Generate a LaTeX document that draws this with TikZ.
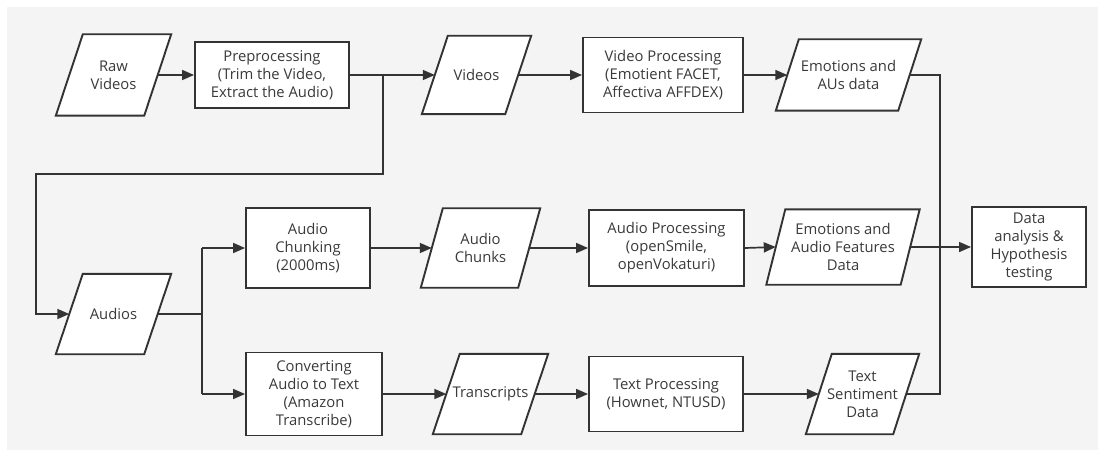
\documentclass[tikz,border=0pt]{standalone}
\usepackage{fontspec}
\setmainfont{Open Sans}
\usetikzlibrary{arrows.meta}
\pgfdeclarelayer{bg}
\pgfsetlayers{bg,main}
\definecolor{ink}{HTML}{333333}
\definecolor{txt}{HTML}{3A3A3A}
\definecolor{paper}{HTML}{F4F4F4}
\tikzset{
  lbl/.style={align=center, text=txt, font=\fontsize{14.8}{18}\selectfont, inner sep=0pt},
  procbox/.style={lbl, draw=ink, line width=1.9pt, fill=white},
  iobox/.style={lbl},
  conn/.style={draw=ink, line width=1.7pt},
  arr/.style={conn, -{Triangle[length=12pt,width=10pt]}},
  iofill/.style={draw=ink, line width=1.9pt, fill=white, line join=miter}
}
\newcommand\iodraw[2]{%
  \path[iofill] ([xshift=#2]#1.north west) -- ([xshift=#2]#1.north east)
    -- ([xshift=-#2]#1.south east) -- ([xshift=-#2]#1.south west) -- cycle;}
\begin{document}
\begin{tikzpicture}[x=1pt,y=-1pt]
\useasboundingbox (0,0) rectangle (1105,457);
% process boxes
\node[procbox, minimum width=154pt, minimum height=66pt] (prep) at (272,75) {Preprocessing\\(Trim the Video,\\Extract the Audio)};
\node[procbox, minimum width=160pt, minimum height=75pt] (vproc) at (663,75) {Video Processing\\(Emotient FACET,\\Affectiva AFFDEX)};
\node[procbox, minimum width=124pt, minimum height=80pt] (achunk) at (308,248) {Audio\\Chunking\\(2000ms)};
\node[procbox, minimum width=155pt, minimum height=76pt] (aproc) at (666.5,248) {Audio Processing\\(openSmile,\\openVokaturi)};
\node[procbox, minimum width=114pt, minimum height=80pt] (data) at (1029,247) {Data\\analysis \&\\Hypothesis\\testing};
\node[procbox, minimum width=136pt, minimum height=83pt] (conv) at (314,394) {Converting\\Audio to Text\\(Amazon\\Transcribe)};
\node[procbox, minimum width=154pt, minimum height=75pt] (tproc) at (666,394) {Text Processing\\(Hownet, NTUSD)};
% data (input/output) nodes
\node[iobox, minimum width=88pt, minimum height=81pt] (raw) at (113.5,75) {Raw\\Videos};
\node[iobox, minimum width=83pt, minimum height=78pt] (videos) at (476.5,75) {Videos};
\node[iobox, minimum width=122pt, minimum height=71pt] (eaus) at (848.5,75) {Emotions and\\AUs data};
\node[iobox, minimum width=88pt, minimum height=80pt] (audios) at (113.5,314) {Audios};
\node[iobox, minimum width=97pt, minimum height=79pt] (chunks) at (480.5,248) {Audio\\Chunks};
\node[iobox, minimum width=134pt, minimum height=75pt] (eaf) at (843,247) {Emotions and\\Audio Features\\Data};
\node[iobox, minimum width=88pt, minimum height=80pt] (trans) at (490.5,394) {Transcripts};
\node[iobox, minimum width=87pt, minimum height=80pt] (tsd) at (862.5,394) {Text\\Sentiment\\Data};
\begin{pgfonlayer}{bg}
  \fill[white] (0,0) rectangle (1105,457);
  \fill[paper] (7,7) rectangle (1098,450);
  \iodraw{raw}{13.5pt}
  \iodraw{videos}{13pt}
  \iodraw{eaus}{11.5pt}
  \iodraw{audios}{13.5pt}
  \iodraw{chunks}{11pt}
  \iodraw{eaf}{9.5pt}
  \iodraw{trans}{13.5pt}
  \iodraw{tsd}{13pt}
\end{pgfonlayer}
% junction coordinates
\coordinate (j1) at (383,75);
\coordinate (j2) at (383,174);
\coordinate (j3) at (36,174);
\coordinate (a1) at (202,314);
\coordinate (a2) at (202,248);
\coordinate (a3) at (202,394);
\coordinate (m1) at (940,75);
\coordinate (m2) at (940,394);
% connectors
\draw[arr] (raw.east) -- (prep.west);
\draw[arr] (prep.east) -- (videos.west);
\draw[arr] (j1) -- (j2) -- (j3) |- (audios.west);
\draw[arr] (videos.east) -- (vproc.west);
\draw[arr] (vproc.east) -- (eaus.west);
\draw[conn] (eaus.east) -- (m1) -- (m2) -- (tsd.east);
\draw[conn] (audios.east) -- (a1);
\draw[conn] (a2) -- (a3);
\draw[arr] (a2) -- (achunk.west);
\draw[arr] (a3) -- (conv.west);
\draw[arr] (achunk.east) -- (chunks.west);
\draw[arr] (chunks.east) -- (aproc.west);
\draw[arr] (aproc.east) -- (eaf.west);
\draw[arr] (eaf.east) -- (data.west);
\draw[arr] (conv.east) -- (trans.west);
\draw[arr] (trans.east) -- (tproc.west);
\draw[arr] (tproc.east) -- (tsd.west);
\end{tikzpicture}
\end{document}
